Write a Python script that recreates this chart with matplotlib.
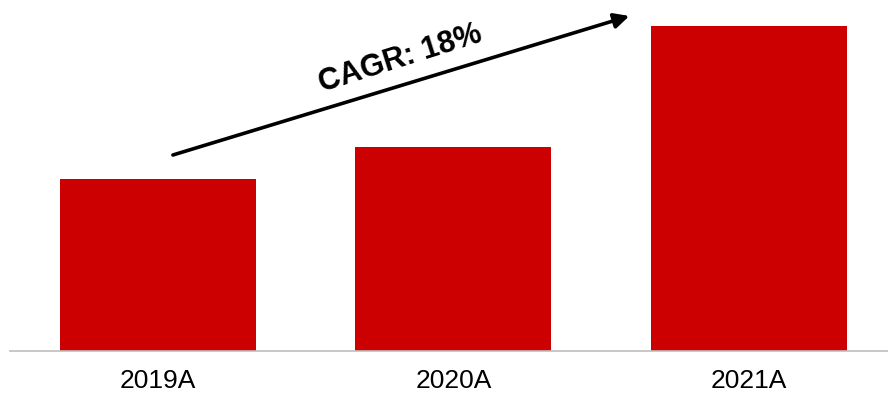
import matplotlib
matplotlib.use("Agg")
import matplotlib.pyplot as plt

years = ["2019A", "2020A", "2021A"]
values = [172, 204, 325]
cagr_label = "CAGR: 18%"

plt.rcParams["font.family"] = ["Liberation Sans", "DejaVu Sans"]

fig = plt.figure(figsize=(8.88, 3.93), dpi=100)
ax = fig.add_axes([10 / 888, 42 / 393, 878 / 888, 351 / 393])

x = range(len(years))
ax.bar(x, values, width=0.663, color="#CC0000", zorder=2)

ax.set_xlim(-0.5, 2.47)
ax.set_ylim(0, 351)
ax.set_xticks(list(x))
ax.set_xticklabels(years, fontsize=19, color="#000000")
ax.tick_params(axis="x", length=0, pad=13)
ax.set_yticks([])

for side in ("top", "right", "left"):
    ax.spines[side].set_visible(False)
ax.spines["bottom"].set_color("#BFBFBF")
ax.spines["bottom"].set_linewidth(1.2)

# growth arrow with CAGR annotation
ax.annotate("", xy=(1.595, 335), xytext=(0.051, 196),
            arrowprops=dict(arrowstyle="-|>,head_length=0.9,head_width=0.45",
                            color="black", lw=2.6, shrinkA=0, shrinkB=0),
            annotation_clip=False)
ax.text(0.819, 292, cagr_label, fontsize=22, fontweight="bold",
        rotation=17.5, ha="center", va="center", rotation_mode="anchor")

fig.savefig("out.png", dpi=100)
